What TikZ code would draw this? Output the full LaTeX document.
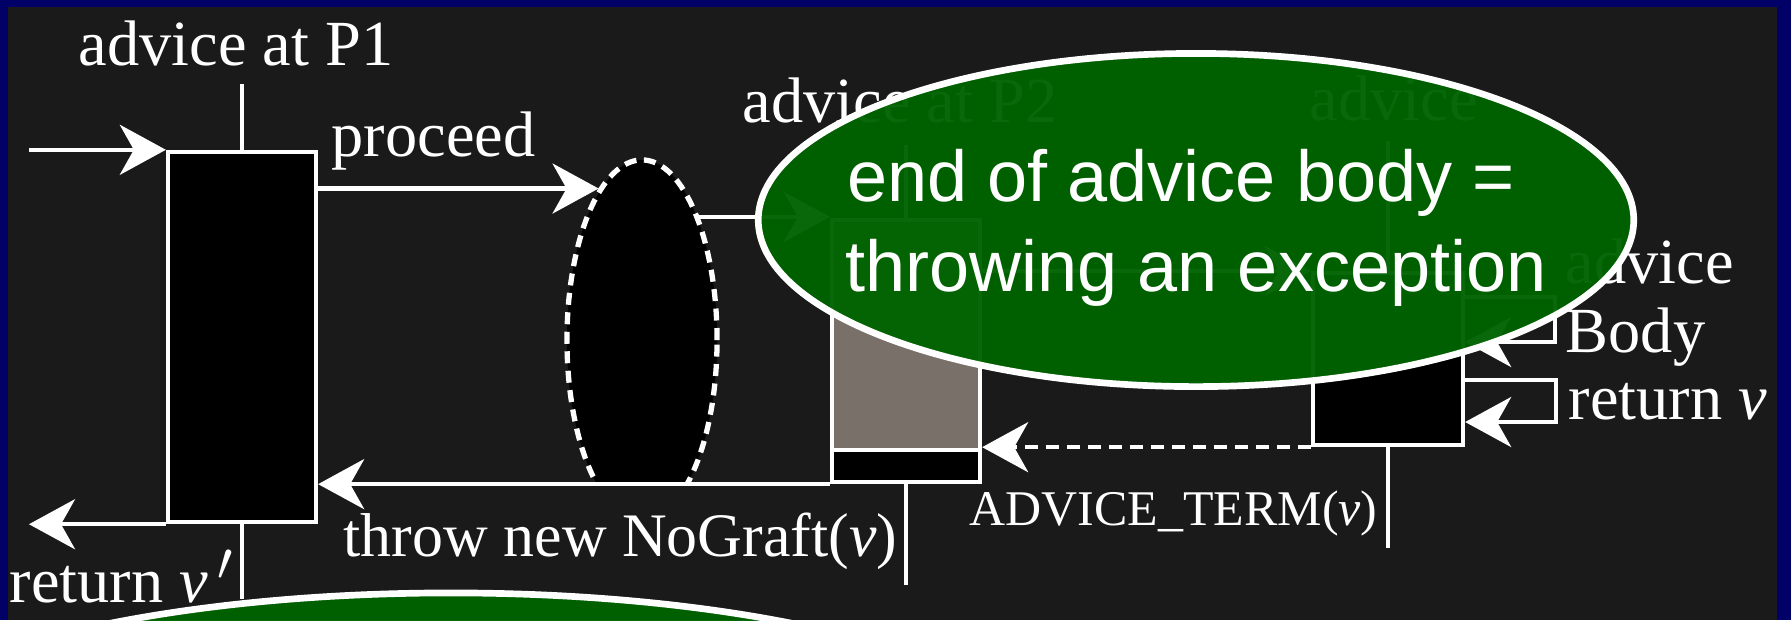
\documentclass[tikz,border=0pt]{standalone}
\usepackage{fontspec}
\setmainfont{Liberation Serif}
\newfontfamily\calloutfont{Liberation Sans}
\usetikzlibrary{arrows.meta,positioning,calc,shapes.geometric}
\definecolor{Frame}{RGB}{0,0,102}
\definecolor{Slate}{RGB}{26,26,26}
\definecolor{Taupe}{RGB}{122,112,106}
\definecolor{Leaf}{RGB}{0,99,0}
\newcommand{\vprime}{\textit{v}\kern0.14em\raisebox{0.33em}{\scalebox{0.9}{$\prime$}}}
\tikzset{
slidebox/.style={draw=white, line width=1.2pt, fill=black, inner sep=0pt, minimum width=1.48cm},
slidestub/.style={draw=white, line width=1.2pt},
slidelabel/.style={text=white, font=\fontsize{18.3}{20}\selectfont, inner sep=0pt, anchor=base west},
slidesmall/.style={text=white, font=\fontsize{14.2}{15.6}\selectfont, inner sep=0pt, anchor=base west},
slidearrow/.style={-{Stealth[length=0.46cm, width=0.5cm, inset=0.14cm]}, draw=white, line width=1.2pt},
slidedash/.style={slidearrow, dash pattern=on 0.13cm off 0.08cm},
slidespot/.style={ellipse, draw=white, line width=1.5pt, dash pattern=on 0.12cm off 0.075cm, fill=black, inner sep=0pt},
slidecallout/.style={ellipse, draw=white, line width=1.9pt, fill=Leaf, fill opacity=0.965, inner sep=0pt},
slidenote/.style={text=white, align=center, inner sep=0pt, font=\calloutfont\fontsize{20.5}{25.6}\selectfont}
}
\begin{document}
\begin{tikzpicture}[x=0.01cm, y=-0.01cm]
  \useasboundingbox (0,0) rectangle (1791,620);
  \clip (0,0) rectangle (1791,620);
  \fill[Frame] (0,0) rectangle (1791,620);
  \fill[Slate] (8,7) rectangle (1777,620);
  % boxes
  \node[slidebox, minimum height=3.7cm] (p1) at (242,337) {};
  \node[slidebox, fill=Taupe, minimum height=2.3cm] (midtop) at (906,335) {};
  \node[slidebox, minimum height=0.32cm] (midbase) at (906,466) {};
  \node[slidebox, minimum width=1.5cm, minimum height=1.72cm] (adv) at (1388,359) {};
  \begin{scope}
    \clip (500,100) rectangle (800,481);
    \node[slidespot, minimum width=1.5cm, minimum height=3.6cm] (spot) at (642,340) {};
  \end{scope}
  % labels
  \node[slidelabel] (p1lbl) at (78,65) {advice at P1};
  \node[slidelabel] (p2lbl) at (742,122) {advice at P2};
  \node[slidelabel] (p3lbl) at (1309,120) {advice};
  \node[slidelabel] (proceedlbl) at (331,156) {proceed};
  \node[slidelabel, font=\fontsize{17.6}{19.4}\selectfont] (throwlbl) at (343,556) {throw new NoGraft(\textit{v})};
  \node[slidesmall] (termlbl) at (969,525) {ADVICE\_TERM(\textit{v})};
  \node[slidelabel] (retlbl) at (9,602) {return \vprime};
  \node[slidelabel] (advlbl) at (1565,283) {advice};
  \node[slidelabel] (bodylbl) at (1565,352) {Body};
  \node[slidelabel] (retvlbl) at (1568,419) {return \textit{v}};
  % stubs
  \draw[slidestub] (p1.north) -- ++(0,-66);
  \draw[slidestub] (p1.south) -- ++(0,75);
  \draw[slidestub] (midtop.north) -- ++(0,-73);
  \draw[slidestub] (midbase.south) -- ++(0,101);
  \draw[slidestub] (adv.north) -- ++(0,-130);
  \draw[slidestub] (adv.south) -- ++(0,101);
  % flow
  \coordinate (entry) at (p1.north west -| 29,0);
  \coordinate (exit) at (p1.south west -| 29,0);
  \draw[slidearrow] (entry) -- (p1.north west);
  \draw[slidearrow] (p1.south west) -- (exit);
  \draw[slidearrow] (spot.106 -| p1.east) -- (spot.106);
  \draw[slidearrow] (spot.65) -- (spot.65 -| midtop.west);
  \draw[slidearrow] (midbase.south west) -- (midbase.south west -| p1.east);
  \draw[slidearrow] (adv.north west -| midtop.east) -- (adv.north west);
  \draw[slidedash] (adv.south west) -- (adv.south west -| midtop.east);
  \draw[slidearrow] (adv.east |- 0,297) -| (1555,342) -- (adv.east |- 0,342);
  \draw[slidearrow] (adv.east |- 0,380) -| (1556,422) -- (adv.east |- 0,422);
  % callouts
  \node[slidecallout, minimum width=8.75cm, minimum height=3.33cm] (endnote) at (1196,220) {};
  \node[slidenote] (endtext) at (1196,228) {end of advice body =\hspace*{0.3cm}\\throwing an exception};
  \node[slidecallout, minimum width=11.94cm, minimum height=3.4cm] (lownote) at (451,763) {};
\end{tikzpicture}
\end{document}
